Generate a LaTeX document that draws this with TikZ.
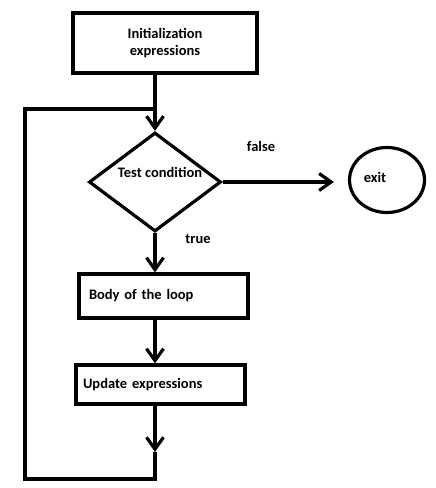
\documentclass[tikz,border=0pt]{standalone}
\usepackage{fontspec}
\setmainfont{Carlito}
\usepackage{tikz}
\usetikzlibrary{positioning, arrows.meta, shapes.geometric}
\tikzset{
  stepbox/.style={rectangle, draw, line width=3.2pt, inner sep=0pt,
    font=\fontsize{14.5}{17.5}\selectfont\bfseries},
  testshape/.style={diamond, draw, line width=3.2pt, inner sep=0pt,
    minimum width=132pt, minimum height=99pt},
  exitshape/.style={ellipse, draw, line width=3.2pt, inner sep=0pt,
    minimum width=75pt, minimum height=65pt},
  tag/.style={font=\fontsize{14.5}{17.5}\selectfont\bfseries, inner sep=0pt},
  flowline/.style={line width=3.2pt, line join=miter},
  flowarrow/.style={flowline, -{Straight Barb[length=12pt, width=17pt]}},
}

\begin{document}
\begin{tikzpicture}[x=1pt, y=-1pt]
    \useasboundingbox (0,0) rectangle (436,488);
    % steps of the loop
    \node[stepbox, minimum width=184pt, minimum height=60pt, align=center]
      (init) at (165,43) {Initialization\\expressions};
    \node[testshape, label={[tag, xshift=5pt, yshift=10pt]center:Test condition}]
      (test) at (155,182) {};
    \node[exitshape, label={[tag, xshift=-12pt, yshift=3pt]center:exit}]
      (exit) at (387,180) {};
    \node[stepbox, minimum height=44pt, inner xsep=10pt, text width=149pt,
          align=left] (body) at (163.5,296) {Body of the loop};
    \node[stepbox, minimum height=39pt, inner xsep=7pt, text width=155pt,
          align=left] (update) at (160.5,384.5) {Update expressions};
    % branch labels
    \node[tag] (falsetag) at (261,146) {false};
    \node[tag] (truetag) at (198,239) {true};
    % main flow
    \draw[flowarrow] (test.north |- init.south) -- (test.north);
    \draw[flowarrow, shorten >=14pt] (test.east) -- (test.east -| exit.west);
    \draw[flowarrow] (test.south) -- (test.south |- body.north);
    \draw[flowarrow] (test.south |- body.south) -- (test.south |- update.north);
    % back to the test
    \coordinate (backtip) at (155,452);
    \coordinate (backcorner) at (25,479);
    \coordinate (backtop) at (25,109);
    \draw[flowarrow] (test.south |- update.south) -- (backtip);
    \draw[flowline] (backtip) |- (backcorner) |- (test.north |- backtop);
\end{tikzpicture}
\end{document}
